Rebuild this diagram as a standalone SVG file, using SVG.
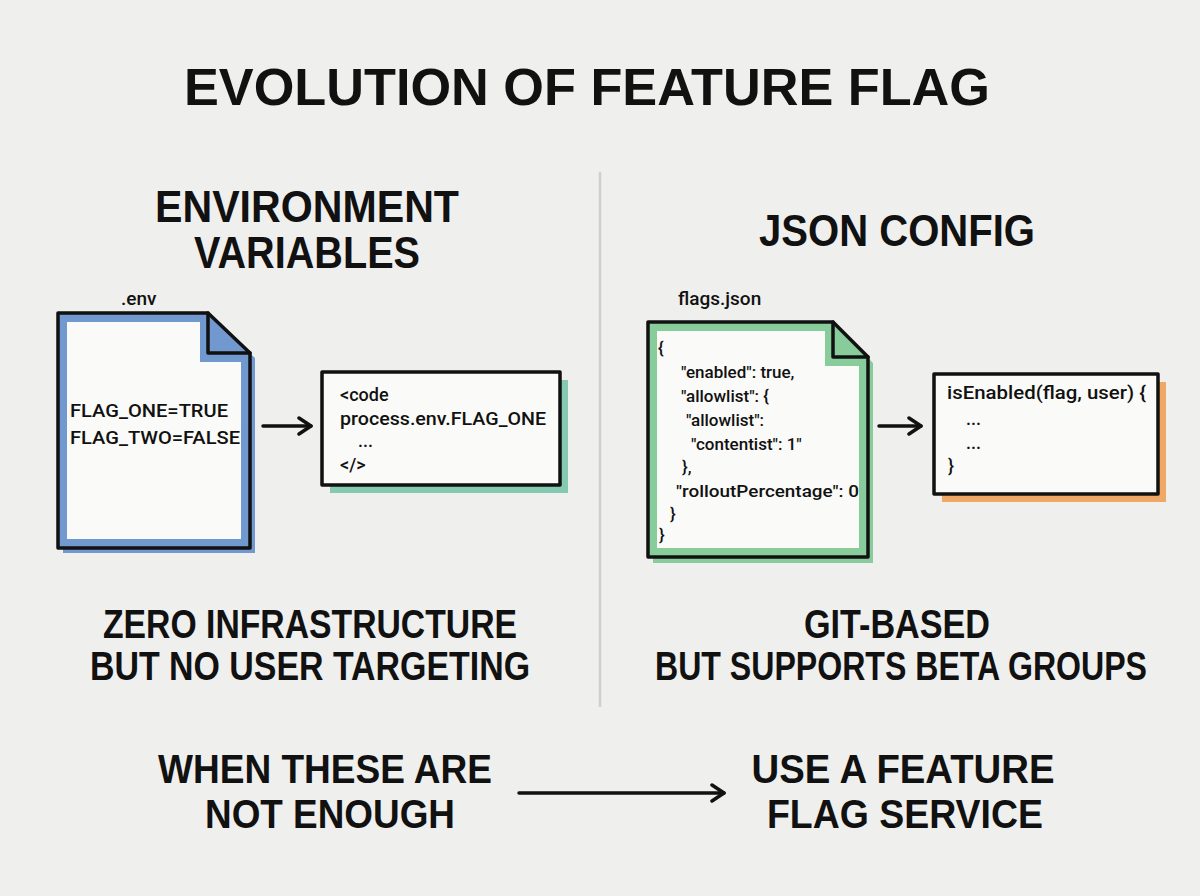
<svg xmlns="http://www.w3.org/2000/svg" width="1200" height="896" viewBox="0 0 1200 896">
<defs>
<style>
.bg{fill:#efefed}
.h{font-family:"Liberation Sans",Arial,sans-serif;font-weight:bold;fill:#111;text-anchor:middle}
.t{font-family:Roboto,"Liberation Sans",Arial,sans-serif;font-weight:500;fill:#111}
.ol{fill:none;stroke:#111;stroke-width:3.5;stroke-linejoin:round;stroke-linecap:round}
.ln{fill:none;stroke:#111;stroke-width:3.5;stroke-linecap:round}
</style>
<marker id="ah" viewBox="0 0 20 20" refX="16" refY="10" markerWidth="20" markerHeight="20" markerUnits="userSpaceOnUse" orient="auto">
<path d="M4,2 L16,10 L4,18" fill="none" stroke="#111" stroke-width="3.5" stroke-linecap="round" stroke-linejoin="round"/>
</marker>
</defs>
<rect class="bg" x="0" y="0" width="1200" height="896"/>

<g id="title">
<text class="h" x="587" y="105" font-size="52" textLength="806" lengthAdjust="spacingAndGlyphs">EVOLUTION OF FEATURE FLAG</text>
</g>

<g id="divider">
<line x1="600" y1="172" x2="600" y2="707" stroke="#cfcfcd" stroke-width="2.5"/>
</g>

<g id="env-heading">
<text class="h" x="307" y="222" font-size="44" textLength="304" lengthAdjust="spacingAndGlyphs">ENVIRONMENT</text>
<text class="h" x="307" y="268" font-size="44" textLength="226" lengthAdjust="spacingAndGlyphs">VARIABLES</text>
</g>

<g id="json-heading">
<text class="h" x="897" y="246" font-size="44" textLength="276" lengthAdjust="spacingAndGlyphs">JSON CONFIG</text>
</g>

<g id="env-file">
<text class="t" x="121" y="305" font-size="19">.env</text>
<path d="M63,319 L213,319 L255,358 L255,553 L63,553 Z" fill="#7299cf"/>
<path d="M58,313 L208,313 L250,353 L250,548 L58,548 Z" fill="#7299cf"/>
<path d="M67,322 L200,322 L200,362 L241,362 L241,539 L67,539 Z" fill="#fafaf8"/>
<path class="ol" d="M58,313 L208,313 L250,353 L250,548 L58,548 Z"/>
<path class="ol" d="M208,313 L208,353 L250,353" fill="#7299cf"/>
<text class="t" x="70" y="417" font-size="19" textLength="158" lengthAdjust="spacingAndGlyphs">FLAG_ONE=TRUE</text>
<text class="t" x="70" y="444" font-size="19" textLength="170" lengthAdjust="spacingAndGlyphs">FLAG_TWO=FALSE</text>
</g>

<g id="code-box">
<rect x="330" y="380" width="238" height="113" fill="#86c9b2"/>
<rect x="322" y="372" width="238" height="113" fill="#fafaf8"/>
<rect class="ol" x="322" y="372" width="238" height="113"/>
<text class="t" x="340" y="401" font-size="18">&lt;code</text>
<text class="t" x="340" y="425" font-size="18" textLength="206" lengthAdjust="spacingAndGlyphs">process.env.FLAG_ONE</text>
<text class="t" x="358" y="447" font-size="18">...</text>
<text class="t" x="340" y="471" font-size="18">&lt;/&gt;</text>
</g>

<g id="json-file">
<text class="t" x="678" y="305" font-size="19">flags.json</text>
<path d="M653,328 L838,328 L873,363 L873,563 L653,563 Z" fill="#88cc9c"/>
<path d="M648,322 L833,322 L868,357 L868,557 L648,557 Z" fill="#88cc9c"/>
<path d="M657,331 L825,331 L825,366 L859,366 L859,548 L657,548 Z" fill="#fafaf8"/>
<path class="ol" d="M648,322 L833,322 L868,357 L868,557 L648,557 Z"/>
<path class="ol" d="M833,322 L833,357 L868,357" fill="#88cc9c"/>
<text class="t" x="658" y="354" font-size="17">{</text>
<text class="t" x="681" y="378" font-size="17">"enabled": true,</text>
<text class="t" x="681" y="402" font-size="17">"allowlist": {</text>
<text class="t" x="686" y="426" font-size="17">"allowlist":</text>
<text class="t" x="691" y="450" font-size="17">"contentist": 1"</text>
<text class="t" x="682" y="473" font-size="17">},</text>
<text class="t" x="676" y="497" font-size="17" textLength="183" lengthAdjust="spacingAndGlyphs">"rolloutPercentage": 0</text>
<text class="t" x="670" y="520" font-size="17">}</text>
<text class="t" x="659" y="541" font-size="17">}</text>
</g>

<g id="func-box">
<rect x="942" y="382" width="224" height="120" fill="#f0a866"/>
<rect x="934" y="374" width="224" height="120" fill="#fafaf8"/>
<rect class="ol" x="934" y="374" width="224" height="120"/>
<text class="t" x="947" y="399" font-size="18" textLength="199" lengthAdjust="spacingAndGlyphs">isEnabled(flag, user) {</text>
<text class="t" x="966" y="425" font-size="18">...</text>
<text class="t" x="966" y="449" font-size="18">...</text>
<text class="t" x="948" y="472" font-size="18">}</text>
</g>

<g id="env-caption">
<text class="h" x="310" y="638" font-size="40" textLength="414" lengthAdjust="spacingAndGlyphs">ZERO INFRASTRUCTURE</text>
<text class="h" x="310" y="680" font-size="40" textLength="440" lengthAdjust="spacingAndGlyphs">BUT NO USER TARGETING</text>
</g>

<g id="json-caption">
<text class="h" x="897" y="638" font-size="40" textLength="186" lengthAdjust="spacingAndGlyphs">GIT-BASED</text>
<text class="h" x="901" y="680" font-size="40" textLength="492" lengthAdjust="spacingAndGlyphs">BUT SUPPORTS BETA GROUPS</text>
</g>

<g id="when">
<text class="h" x="325" y="783" font-size="40" textLength="334" lengthAdjust="spacingAndGlyphs">WHEN THESE ARE</text>
<text class="h" x="330" y="828" font-size="40" textLength="250" lengthAdjust="spacingAndGlyphs">NOT ENOUGH</text>
</g>

<g id="use-service">
<text class="h" x="903" y="783" font-size="40" textLength="303" lengthAdjust="spacingAndGlyphs">USE A FEATURE</text>
<text class="h" x="905" y="828" font-size="40" textLength="276" lengthAdjust="spacingAndGlyphs">FLAG SERVICE</text>
</g>

<g id="connectors">
<line class="ln" x1="263" y1="426" x2="311" y2="426" marker-end="url(#ah)"/>
<line class="ln" x1="879" y1="426" x2="921" y2="426" marker-end="url(#ah)"/>
<line class="ln" x1="519" y1="793" x2="724" y2="793" marker-end="url(#ah)"/>
</g>
</svg>
